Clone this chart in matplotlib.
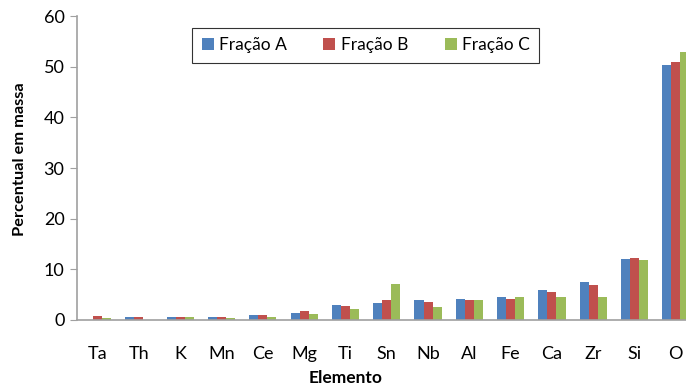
import numpy as np
import matplotlib.pyplot as plt

plt.rcParams['font.family'] = ['Lato', 'DejaVu Sans']

elementos = ['Ta', 'Th', 'K', 'Mn', 'Ce', 'Mg', 'Ti', 'Sn', 'Nb', 'Al', 'Fe', 'Ca', 'Zr', 'Si', 'O']
fracao_a = [0.0, 0.5, 0.5, 0.5, 1.0, 1.4, 3.0, 3.3, 3.9, 4.1, 4.6, 5.9, 7.5, 12.0, 50.3]
fracao_b = [0.7, 0.5, 0.5, 0.5, 1.0, 1.7, 2.8, 3.9, 3.5, 3.9, 4.1, 5.5, 6.9, 12.2, 50.9]
fracao_c = [0.3, 0.0, 0.5, 0.3, 0.5, 1.2, 2.1, 7.1, 2.6, 3.9, 4.6, 4.6, 4.6, 11.8, 52.9]

fig = plt.figure(figsize=(6.86, 3.88), dpi=100)
ax = fig.add_axes([77 / 686, 68 / 388, 619.5 / 686, 304 / 388])

x = np.arange(len(elementos))
w = 0.22
ax.bar(x - w, fracao_a, w, color='#4F81BD', label='Fração A')
ax.bar(x, fracao_b, w, color='#C0504D', label='Fração B')
ax.bar(x + w, fracao_c, w, color='#9BBB59', label='Fração C')

ax.set_xlim(-0.5, len(elementos) - 0.5)
ax.set_ylim(0, 60)
ax.set_yticks(range(0, 61, 10))
ax.set_xticks(x)
ax.set_xticklabels(elementos)
ax.tick_params(axis='x', length=0, labelsize=13, pad=19)
ax.tick_params(axis='y', length=5, color='#A0A0A0', labelsize=13, pad=4)

for s in ['top', 'right']:
    ax.spines[s].set_visible(False)
for s in ['left', 'bottom']:
    ax.spines[s].set_color('#A0A0A0')
    ax.spines[s].set_linewidth(1.2)

ax.set_ylabel('Percentual em massa', fontsize=11.8, fontweight='bold')
ax.yaxis.set_label_coords(-0.081, 0.53)
ax.set_xlabel('Elemento', fontsize=12.5, fontweight='bold')
ax.xaxis.set_label_coords(0.434, -0.163)

leg = ax.legend(loc='center', bbox_to_anchor=(0.466, 0.903), ncol=3, fontsize=12.5,
                frameon=True, fancybox=False, handlelength=0.7, handleheight=0.7,
                columnspacing=2.1, handletextpad=0.3, borderpad=0.55)
leg.get_frame().set_edgecolor('black')
leg.get_frame().set_linewidth(0.8)

fig.savefig('out.png', dpi=100)
